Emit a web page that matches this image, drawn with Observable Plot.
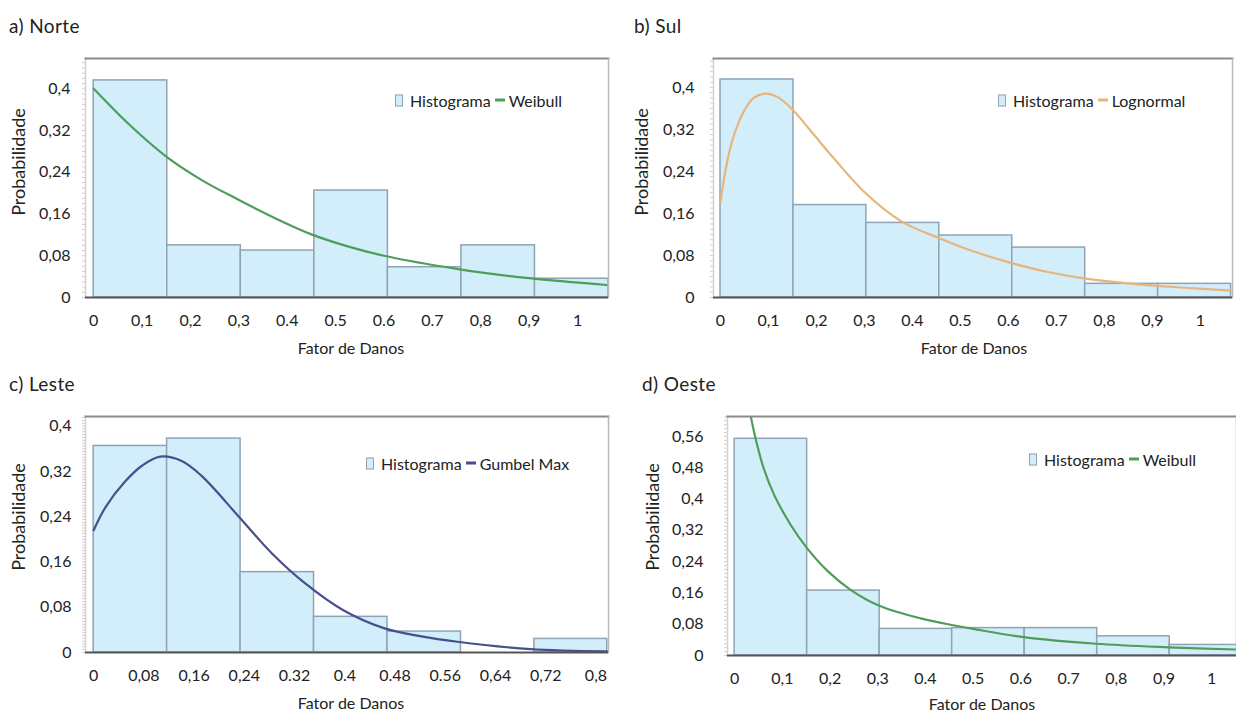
<!DOCTYPE html>
<html>
<head>
<meta charset="utf-8">
<script src="https://cdn.jsdelivr.net/npm/d3@7"></script>
<script src="https://cdn.jsdelivr.net/npm/@observablehq/plot@0.6"></script>
<style>
  html, body { margin: 0; padding: 0; background: #fff; }
  #root { position: relative; width: 1236px; height: 711px; overflow: hidden; font-family: Lato, "Open Sans", sans-serif; color: #222; }
  .panel { position: absolute; }
  .title { position: absolute; font-size: 19px; letter-spacing: 0.4px; white-space: nowrap; transform: translateY(-50%); }
  .xlab { position: absolute; font-size: 16px; white-space: nowrap; transform: translate(-50%, -50%); }
  .ylab { position: absolute; font-size: 18px; white-space: nowrap; transform: translate(-50%, -50%) rotate(-90deg); }
  .legend { position: absolute; display: flex; align-items: center; font-size: 16px; white-space: nowrap; transform: translateY(-50%); }
  .legend .box { width: 6px; height: 10px; border: 1.5px solid #8fa3b5; background: #d3eefb; margin-right: 7px; }
  .legend .ln { width: 10px; height: 3px; margin: 0 4px 0 4px; }
</style>
</head>
<body>
<div id="root"></div>
<script>
// ---------- data ----------
// a) Norte
const norteEdges = [0, 0.152, 0.304, 0.456, 0.608, 0.76, 0.912, 1.064];
const norteProb = [0.416, 0.100, 0.090, 0.205, 0.058, 0.100, 0.036];
const norteCurveX = [0, 0.075, 0.15, 0.225, 0.30, 0.375, 0.45, 0.525, 0.60, 0.75, 0.90, 1.06];
const norteCurveY = [0.400, 0.330, 0.270, 0.224, 0.187, 0.152, 0.121, 0.098, 0.080, 0.055, 0.037, 0.024];
// b) Sul
const sulEdges = [0, 0.152, 0.304, 0.456, 0.608, 0.76, 0.912, 1.064];
const sulProb = [0.415, 0.176, 0.142, 0.118, 0.095, 0.026, 0.026];
const sulCurveX = [0, 0.0105, 0.027, 0.048, 0.069, 0.094, 0.12, 0.151, 0.19, 0.237, 0.302, 0.377, 0.456, 0.53, 0.609, 0.685, 0.761, 0.86, 0.96, 1.066];
const sulCurveY = [0.180, 0.243, 0.306, 0.353, 0.380, 0.388, 0.381, 0.357, 0.315, 0.264, 0.199, 0.145, 0.113, 0.087, 0.065, 0.048, 0.036, 0.026, 0.019, 0.013];
// c) Leste
const lesteEdges = [0, 0.117, 0.234, 0.351, 0.468, 0.585, 0.702, 0.818];
const lesteProb = [0.365, 0.378, 0.142, 0.063, 0.037, 0, 0.024];
const lesteCurveX = [0, 0.019, 0.05, 0.077, 0.106, 0.141, 0.172, 0.232, 0.284, 0.337, 0.397, 0.462, 0.52, 0.579, 0.696, 0.818];
const lesteCurveY = [0.216, 0.257, 0.302, 0.330, 0.346, 0.338, 0.312, 0.239, 0.175, 0.122, 0.075, 0.043, 0.029, 0.019, 0.006, 0.002];
// d) Oeste
const oesteEdges = [0, 0.152, 0.304, 0.456, 0.608, 0.76, 0.912, 1.064];
const oesteProb = [0.554, 0.166, 0.068, 0.070, 0.070, 0.049, 0.027];
const oesteCurveX = [0.0335, 0.044, 0.061, 0.083, 0.117, 0.15, 0.194, 0.243, 0.302, 0.39, 0.455, 0.5, 0.606, 0.757, 0.909, 1.06];
const oesteCurveY = [0.613, 0.554, 0.478, 0.410, 0.335, 0.277, 0.217, 0.168, 0.128, 0.095, 0.078, 0.068, 0.047, 0.030, 0.021, 0.015];

// tick values and labels
const xTicks1 = [0, 0.1, 0.2, 0.3, 0.4, 0.5, 0.6, 0.7, 0.8, 0.9, 1];
const xLabels1 = ["0", "0,1", "0,2", "0,3", "0.4", "0.5", "0.6", "0.7", "0,8", "0,9", "1"];
const xTicksC = [0, 0.08, 0.16, 0.24, 0.32, 0.4, 0.48, 0.56, 0.64, 0.72, 0.8];
const xLabelsC = ["0", "0,08", "0,16", "0,24", "0.32", "0.4", "0.48", "0.56", "0,64", "0,72", "0,8"];
const yTicks4 = [0, 0.08, 0.16, 0.24, 0.32, 0.4];
const yLabels4 = ["0", "0,08", "0,16", "0,24", "0,32", "0,4"];
const yTicksD = [0, 0.08, 0.16, 0.24, 0.32, 0.4, 0.48, 0.56];
const yLabelsD = ["0", "0,08", "0,16", "0,24", "0,32", "0,4", "0,48", "0,56"];

const titles = ["a) Norte", "b) Sul", "c) Leste", "d) Oeste"];
const fitNames = ["Weibull", "Lognormal", "Gumbel Max", "Weibull"];
const fitColors = ["#4f9d5a", "#e7b57c", "#474f8c", "#4f9d5a"];
const xTitle = "Fator de Danos";
const yTitle = "Probabilidade";
const histName = "Histograma";

// ---------- layout ----------
const panels = [
  {edges: norteEdges, prob: norteProb, cx: norteCurveX, cy: norteCurveY, xt: xTicks1, xl: xLabels1, yt: yTicks4, yl: yLabels4,
   left: 0, top: 40, width: 618, height: 320, mt: 18, mb: 63, ml: 85, mr: 10, xd: [-0.017, 1.064], yd: [0, 0.458], yPad: 15,
   title: [9, 25], xlab: [351, 347], ylab: [18, 162], legend: [395, 100]},
  {edges: sulEdges, prob: sulProb, cx: sulCurveX, cy: sulCurveY, xt: xTicks1, xl: xLabels1, yt: yTicks4, yl: yLabels4,
   left: 618, top: 40, width: 618, height: 320, mt: 18, mb: 63, ml: 95, mr: 4, xd: [-0.0146, 1.067], yd: [0, 0.455], yPad: 19,
   title: [634, 25], xlab: [974, 347], ylab: [641, 162], legend: [998, 100]},
  {edges: lesteEdges, prob: lesteProb, cx: lesteCurveX, cy: lesteCurveY, xt: xTicksC, xl: xLabelsC, yt: yTicks4, yl: yLabels4,
   left: 0, top: 395, width: 618, height: 316, mt: 21, mb: 59, ml: 85, mr: 10, xd: [-0.013, 0.82], yd: [0, 0.417], yPad: 14,
   title: [9, 383], xlab: [351, 702], ylab: [18, 517], legend: [366, 463]},
  {edges: oesteEdges, prob: oesteProb, cx: oesteCurveX, cy: oesteCurveY, xt: xTicks1, xl: xLabels1, yt: yTicksD, yl: yLabelsD,
   left: 618, top: 395, width: 618, height: 316, mt: 21, mb: 56, ml: 109, mr: 0, xd: [-0.015, 1.052], yd: [0, 0.611], yPad: 24,
   title: [642, 383], xlab: [982, 703], ylab: [652, 517], legend: [1029, 459]}
];

const root = document.getElementById("root");

panels.forEach((p, k) => {
  const bins = p.prob.map((v, i) => ({x1: p.edges[i], x2: p.edges[i + 1], p: v}));
  const curve = p.cx.map((x, i) => ({x, y: p.cy[i]}));
  const xfmt = d => p.xl[p.xt.indexOf(d)];
  const yfmt = d => p.yl[p.yt.indexOf(d)];
  const chart = Plot.plot({
    width: p.width, height: p.height,
    marginTop: p.mt, marginBottom: p.mb, marginLeft: p.ml, marginRight: p.mr,
    style: {fontFamily: "Lato, 'Open Sans', sans-serif", fontSize: "16px", color: "#222", background: "transparent", overflow: "visible"},
    x: {domain: p.xd, label: null},
    y: {domain: p.yd, label: null},
    marks: [
      Plot.rectY(bins, {x1: "x1", x2: "x2", y: "p", fill: "#d3eefb", stroke: "#8fa3b5", strokeWidth: 1.5, clip: true}),
      Plot.line(curve, {x: "x", y: "y", stroke: fitColors[k], strokeWidth: 2.2, curve: "catmull-rom", clip: true}),
      Plot.frame({anchor: "left", stroke: "#d2d2d2", strokeWidth: 1.5}),
      Plot.axisY({ticks: 60, tickSize: 3, tickFormat: () => "", stroke: "#cfcfcf"}),
      Plot.frame({anchor: "top", stroke: "#8a8a8a", strokeWidth: 2}),
      Plot.frame({anchor: "right", stroke: "#b8b8b8", strokeWidth: 1.5}),
      Plot.ruleY([0], {stroke: "#555", strokeWidth: 2}),
      Plot.axisX({ticks: p.xt, tickFormat: xfmt, tickSize: 0, tickPadding: 17, fill: "#222"}),
      Plot.axisY({ticks: p.yt, tickFormat: yfmt, tickSize: 0, tickPadding: p.yPad, fill: "#222"})
    ]
  });
  const wrap = document.createElement("div");
  wrap.className = "panel";
  wrap.style.left = p.left + "px";
  wrap.style.top = p.top + "px";
  wrap.appendChild(chart);
  root.appendChild(wrap);

  const t = document.createElement("div");
  t.className = "title"; t.textContent = titles[k];
  t.style.left = p.title[0] + "px"; t.style.top = p.title[1] + "px";
  root.appendChild(t);

  const xl = document.createElement("div");
  xl.className = "xlab"; xl.textContent = xTitle;
  xl.style.left = p.xlab[0] + "px"; xl.style.top = p.xlab[1] + "px";
  root.appendChild(xl);

  const yl = document.createElement("div");
  yl.className = "ylab"; yl.textContent = yTitle;
  yl.style.left = p.ylab[0] + "px"; yl.style.top = p.ylab[1] + "px";
  root.appendChild(yl);

  const lg = document.createElement("div");
  lg.className = "legend";
  lg.style.left = p.legend[0] + "px"; lg.style.top = p.legend[1] + "px";
  lg.innerHTML = `<span class="box"></span><span>${histName}</span><span class="ln" style="background:${fitColors[k]}"></span><span>${fitNames[k]}</span>`;
  root.appendChild(lg);
});
</script>
</body>
</html>
